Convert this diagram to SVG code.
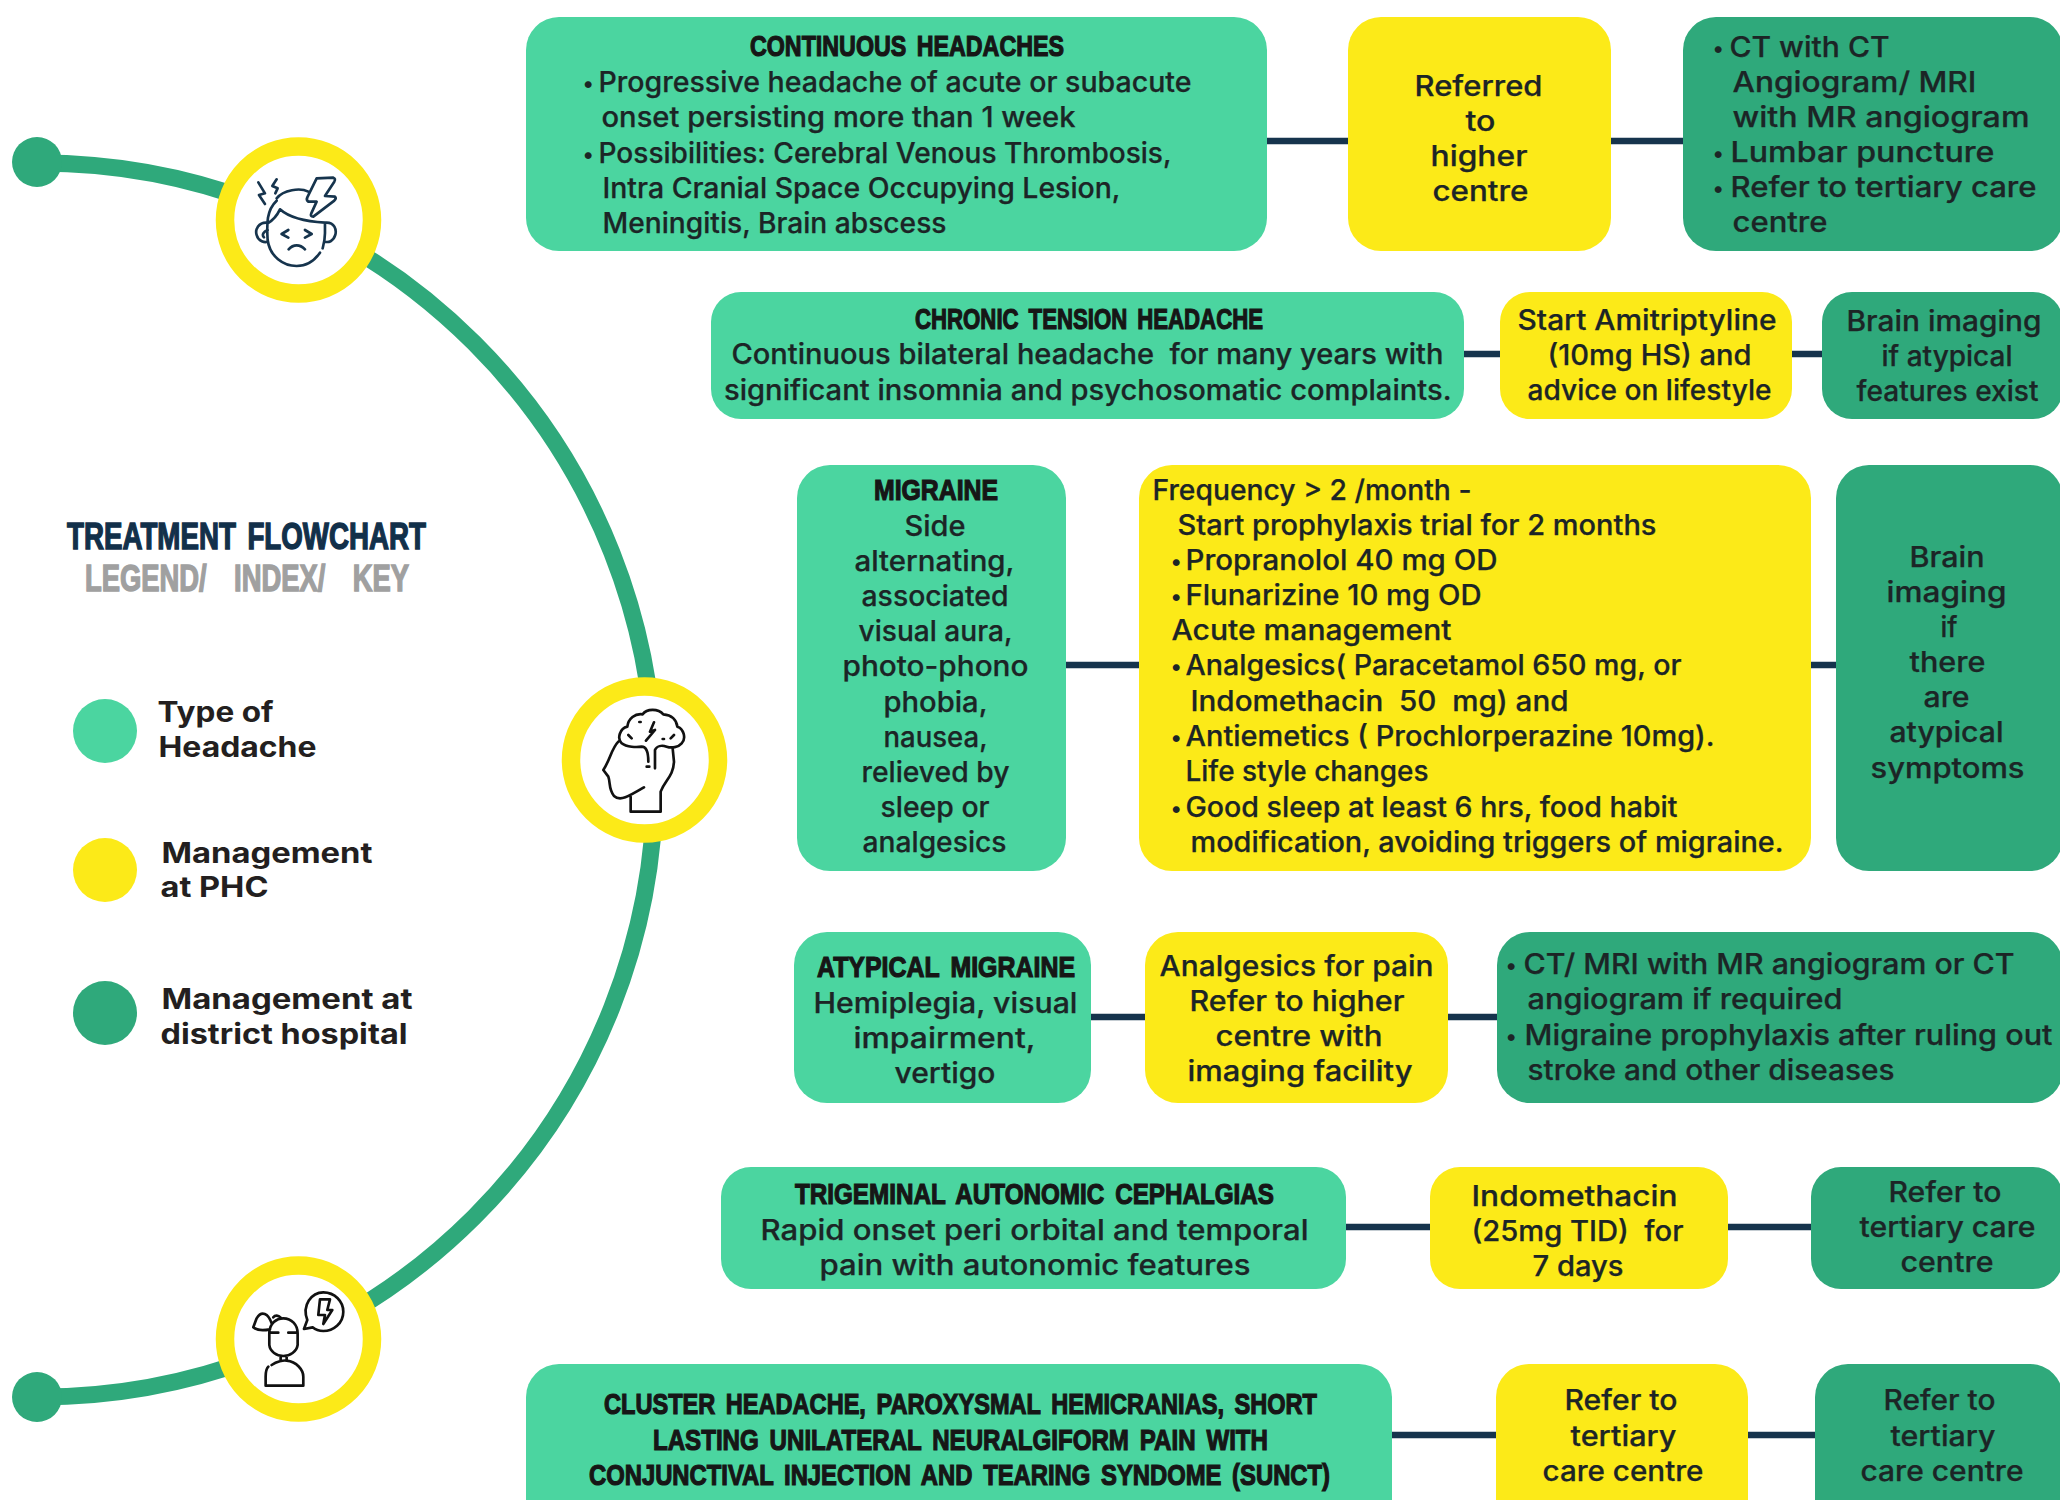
<svg xmlns="http://www.w3.org/2000/svg" width="2060" height="1500" viewBox="0 0 2060 1500">
<style>
.m{fill:#4bd5a0}.y{fill:#fcea18}.d{fill:#2fa97b}
.t{font-family:"Inter","Noto Sans",sans-serif;font-size:28px;font-weight:500;fill:#1c2526;stroke:#1c2526;stroke-width:.25px;transform:translate(-.5px,.5px)}
.h{font-family:"Liberation Sans",Arial,sans-serif;font-size:29px;font-weight:700;fill:#161616;stroke:#161616;stroke-width:1.2px;word-spacing:5px}
.l{font-family:"Inter","Noto Sans",sans-serif;font-size:28px;font-weight:700;fill:#231f20;transform:translateX(-.5px)}
.g{font-family:"Liberation Sans",Arial,sans-serif;font-size:36px;font-weight:700;stroke-width:1.4px}
.b{font-family:"Inter","Noto Sans",sans-serif;font-size:22px;fill:#1c2526;transform:translateX(-3px)}
.ic{fill:none;stroke-width:8;stroke-linecap:round;stroke-linejoin:round}
.conn line{stroke:#16344d;stroke-width:6.5}
</style>
<rect width="2060" height="1500" fill="#fff"/>
<g id="spine">
<path d="M37 163A616 616 0 0 1 655 780A616 616 0 0 1 37 1397" fill="none" stroke="#2fa97b" stroke-width="17"/>
<circle class="d" cx="37" cy="162" r="25"/><circle class="d" cx="37" cy="1397" r="25"/>
</g>
<g id="icon-top">
<circle cx="298.500" cy="220" r="73.500" fill="#fff" stroke="#fcea18" stroke-width="18.500"/>
<g transform="translate(0 100) scale(.3333)" class="ic" stroke="#16344d">
<path d="M830 302C800 330 800 370 803 420C810 470 850 498 890 498C920 498 945 480 960 458M830 295C850 270 900 262 925 275M803 370C820 360 832 345 840 328C870 355 920 365 975 368L975 400C975 420 972 430 968 445M803 368C775 365 765 390 770 405C775 425 795 428 803 425M803 390C790 395 785 405 792 412M975 368C1005 365 1010 390 1006 405C1000 425 985 428 975 425M865 390L845 402L865 413M915 390L935 402L915 413M866 448C880 432 900 432 915 448"/>
<path d="M950 235L1000 233Q1008 236 1003 245L975 288L1005 290Q1010 295 1003 302L940 350Q930 350 934 340L950 305L925 305Q918 300 922 292Z" fill="#fff"/>
<path d="M775 247L795 280L777 285L795 312M830 238L817 258L833 265L826 280"/>
</g>
</g>
<g id="icon-mid">
<circle cx="644.500" cy="760" r="73.500" fill="#fff" stroke="#fcea18" stroke-width="18.500"/>
<g transform="translate(540 660) scale(.3333)" class="ic" stroke="#111">
<path d="M262 200C265 175 285 160 308 163C320 145 355 145 370 163C395 165 410 180 412 200C430 205 440 235 425 250C415 262 395 265 380 260C365 255 350 258 345 270L345 325M262 200C240 205 230 235 245 250C260 262 290 262 305 260C320 260 325 275 325 305M235 245C215 265 210 300 190 330L205 350C212 370 205 385 222 408C240 425 265 410 312 382M272 410L272 455L362 455L362 395C375 360 400 350 402 305L398 265M342 187L330 215L345 210L318 242M298 186L302 186M368 237L372 237M265 225L275 235M402 225L392 235M320 320L328 320"/>
</g>
</g>
<g id="icon-bottom">
<circle cx="298.500" cy="1339" r="73.500" fill="#fff" stroke="#fcea18" stroke-width="18.500"/>
<g transform="translate(0 1230) scale(.3333)" class="ic" stroke="#111">
<path d="M808 310C808 280 830 265 850 265C875 265 893 285 893 310L893 345C890 365 870 378 850 378C830 378 810 365 808 345ZM808 308L835 308M865 308L893 308M842 378L842 392M860 378L860 392M815 405C830 395 850 390 860 392C890 395 910 420 910 440L910 467L797 467L797 440C797 425 800 415 805 410M815 280C805 250 785 240 770 265L760 292C775 305 800 300 810 298M820 262C825 255 835 255 842 263"/>
<path d="M922 270C905 225 935 187 970 187C1005 187 1030 215 1030 245C1030 280 1000 303 970 303C955 303 945 298 938 292L912 297Z"/>
<path d="M960 208L990 208L982 240L997 240L970 282L975 255L955 255Z"/>
</g>
</g>
<g id="connectors" class="conn">
<line x1="1267" y1="141" x2="1348" y2="141"/><line x1="1611" y1="141" x2="1683" y2="141"/>
<line x1="1464" y1="354" x2="1501" y2="354"/><line x1="1792" y1="354" x2="1822" y2="354"/>
<line x1="1066" y1="665" x2="1139" y2="665"/><line x1="1811" y1="665" x2="1836" y2="665"/>
<line x1="1091" y1="1017" x2="1145" y2="1017"/><line x1="1448" y1="1017" x2="1497" y2="1017"/>
<line x1="1346" y1="1227" x2="1430" y2="1227"/><line x1="1728" y1="1227" x2="1811" y2="1227"/>
<line x1="1392" y1="1435" x2="1496" y2="1435"/><line x1="1748" y1="1435" x2="1815" y2="1435"/>
</g>
<g id="legend">
<text class="g" x="67" y="549" textLength="359" lengthAdjust="spacingAndGlyphs" fill="#12304a" stroke="#12304a" word-spacing="5">TREATMENT FLOWCHART</text>
<text class="g" x="85" y="591" textLength="324" lengthAdjust="spacingAndGlyphs" fill="#a0a0a0" stroke="#a0a0a0" word-spacing="26">LEGEND/ INDEX/ KEY</text>
<circle class="m" cx="105" cy="731" r="32"/><circle class="y" cx="105" cy="870" r="32"/><circle class="d" cx="105" cy="1013" r="32"/>
<text class="l" x="158" y="722" textLength="116" lengthAdjust="spacingAndGlyphs">Type of</text>
<text class="l" x="159" y="757" textLength="158" lengthAdjust="spacingAndGlyphs">Headache</text>
<text class="l" x="162" y="863" textLength="211" lengthAdjust="spacingAndGlyphs">Management</text>
<text class="l" x="161" y="897" textLength="108" lengthAdjust="spacingAndGlyphs">at PHC</text>
<text class="l" x="162" y="1009" textLength="251" lengthAdjust="spacingAndGlyphs">Management at</text>
<text class="l" x="161" y="1044" textLength="247" lengthAdjust="spacingAndGlyphs">district hospital</text>
</g>
<g id="continuous-type">
<rect class="m" x="526" y="17" width="741" height="234" rx="33"/>
<text class="h" x="750" y="56" textLength="314" lengthAdjust="spacingAndGlyphs">CONTINUOUS HEADACHES</text>
<text class="b" x="585" y="91">•</text><text class="b" x="585" y="162">•</text>
<text class="t" x="599" y="91" textLength="593" lengthAdjust="spacingAndGlyphs">Progressive headache of acute or subacute</text>
<text class="t" x="602" y="126.5" textLength="474" lengthAdjust="spacingAndGlyphs">onset persisting more than 1 week</text>
<text class="t" x="599" y="162" textLength="573" lengthAdjust="spacingAndGlyphs">Possibilities: Cerebral Venous Thrombosis,</text>
<text class="t" x="603" y="197" textLength="518" lengthAdjust="spacingAndGlyphs">Intra Cranial Space Occupying Lesion,</text>
<text class="t" x="603" y="232.5" textLength="344" lengthAdjust="spacingAndGlyphs">Meningitis, Brain abscess</text>
</g>
<g id="continuous-phc">
<rect class="y" x="1348" y="17" width="263" height="234" rx="33"/>
<text class="t" x="1415" y="95" textLength="128" lengthAdjust="spacingAndGlyphs">Referred</text>
<text class="t" x="1466" y="130" textLength="30" lengthAdjust="spacingAndGlyphs">to</text>
<text class="t" x="1431" y="165" textLength="97" lengthAdjust="spacingAndGlyphs">higher</text>
<text class="t" x="1433" y="200.5" textLength="96" lengthAdjust="spacingAndGlyphs">centre</text>
</g>
<g id="continuous-district">
<rect class="d" x="1683" y="17" width="380" height="234" rx="33"/>
<text class="b" x="1715" y="56">•</text><text class="b" x="1715" y="161">•</text><text class="b" x="1715" y="196">•</text>
<text class="t" x="1730" y="56" textLength="160" lengthAdjust="spacingAndGlyphs">CT with CT</text>
<text class="t" x="1733" y="91" textLength="244" lengthAdjust="spacingAndGlyphs">Angiogram/ MRI</text>
<text class="t" x="1733" y="126" textLength="297" lengthAdjust="spacingAndGlyphs">with MR angiogram</text>
<text class="t" x="1731" y="161" textLength="264" lengthAdjust="spacingAndGlyphs">Lumbar puncture</text>
<text class="t" x="1731" y="196" textLength="306" lengthAdjust="spacingAndGlyphs">Refer to tertiary care</text>
<text class="t" x="1733" y="231.5" textLength="95" lengthAdjust="spacingAndGlyphs">centre</text>
</g>
<g id="tension-type">
<rect class="m" x="711" y="292" width="753" height="127" rx="30"/>
<text class="h" x="915" y="329" textLength="348" lengthAdjust="spacingAndGlyphs">CHRONIC TENSION HEADACHE</text>
<text class="t" x="732" y="363.5" textLength="712" lengthAdjust="spacingAndGlyphs" xml:space="preserve">Continuous bilateral headache  for many years with</text>
<text class="t" x="724.5" y="399" textLength="727.500" lengthAdjust="spacingAndGlyphs">significant insomnia and psychosomatic complaints.</text>
</g>
<g id="tension-phc">
<rect class="y" x="1500" y="292" width="292" height="127" rx="30"/>
<text class="t" x="1518" y="329" textLength="259" lengthAdjust="spacingAndGlyphs">Start Amitriptyline</text>
<text class="t" x="1548" y="364" textLength="204" lengthAdjust="spacingAndGlyphs">(10mg HS) and</text>
<text class="t" x="1528" y="399" textLength="244" lengthAdjust="spacingAndGlyphs">advice on lifestyle</text>
</g>
<g id="tension-district">
<rect class="d" x="1822" y="292" width="241" height="127" rx="30"/>
<text class="t" x="1847" y="330" textLength="195" lengthAdjust="spacingAndGlyphs">Brain imaging</text>
<text class="t" x="1882" y="365" textLength="131" lengthAdjust="spacingAndGlyphs">if atypical</text>
<text class="t" x="1857" y="400" textLength="182" lengthAdjust="spacingAndGlyphs">features exist</text>
</g>
<g id="migraine-type">
<rect class="m" x="797" y="465" width="269" height="406" rx="33"/>
<text class="h" x="874" y="500" textLength="124" lengthAdjust="spacingAndGlyphs">MIGRAINE</text>
<text class="t" x="905" y="535" textLength="61" lengthAdjust="spacingAndGlyphs">Side</text>
<text class="t" x="855" y="570" textLength="160" lengthAdjust="spacingAndGlyphs">alternating,</text>
<text class="t" x="862" y="605" textLength="147" lengthAdjust="spacingAndGlyphs">associated</text>
<text class="t" x="859" y="640.5" textLength="154" lengthAdjust="spacingAndGlyphs">visual aura,</text>
<text class="t" x="843" y="675.500" textLength="186" lengthAdjust="spacingAndGlyphs">photo-phono</text>
<text class="t" x="884" y="711" textLength="104" lengthAdjust="spacingAndGlyphs">phobia,</text>
<text class="t" x="884" y="746.5" textLength="104" lengthAdjust="spacingAndGlyphs">nausea,</text>
<text class="t" x="862" y="781" textLength="148" lengthAdjust="spacingAndGlyphs">relieved by</text>
<text class="t" x="881" y="816.5" textLength="109" lengthAdjust="spacingAndGlyphs">sleep or</text>
<text class="t" x="863" y="851.5" textLength="144" lengthAdjust="spacingAndGlyphs">analgesics</text>
</g>
<g id="migraine-phc">
<rect class="y" x="1139" y="465" width="672" height="406" rx="33"/>
<text class="b" x="1173" y="569">•</text><text class="b" x="1173" y="604">•</text><text class="b" x="1173" y="674">•</text><text class="b" x="1173" y="745">•</text><text class="b" x="1173" y="816">•</text>
<text class="t" x="1153" y="499" textLength="319" lengthAdjust="spacingAndGlyphs">Frequency &gt; 2 /month -</text>
<text class="t" x="1178" y="534" textLength="479" lengthAdjust="spacingAndGlyphs">Start prophylaxis trial for 2 months</text>
<text class="t" x="1186" y="569" textLength="312" lengthAdjust="spacingAndGlyphs">Propranolol 40 mg OD</text>
<text class="t" x="1186" y="604" textLength="296" lengthAdjust="spacingAndGlyphs">Flunarizine 10 mg OD</text>
<text class="t" x="1172" y="639.5" textLength="280" lengthAdjust="spacingAndGlyphs">Acute management</text>
<text class="t" x="1186" y="674.500" textLength="496" lengthAdjust="spacingAndGlyphs">Analgesics( Paracetamol 650 mg, or</text>
<text class="t" x="1191" y="710" textLength="378" lengthAdjust="spacingAndGlyphs" xml:space="preserve">Indomethacin  50  mg) and</text>
<text class="t" x="1186" y="745" textLength="529" lengthAdjust="spacingAndGlyphs">Antiemetics ( Prochlorperazine 10mg).</text>
<text class="t" x="1186" y="780.5" textLength="243" lengthAdjust="spacingAndGlyphs">Life style changes</text>
<text class="t" x="1186" y="816" textLength="492" lengthAdjust="spacingAndGlyphs">Good sleep at least 6 hrs, food habit</text>
<text class="t" x="1191" y="851" textLength="593" lengthAdjust="spacingAndGlyphs">modification, avoiding triggers of migraine.</text>
</g>
<g id="migraine-district">
<rect class="d" x="1836" y="465" width="227" height="406" rx="33"/>
<text class="t" x="1910" y="566" textLength="75" lengthAdjust="spacingAndGlyphs">Brain</text>
<text class="t" x="1887" y="601" textLength="120" lengthAdjust="spacingAndGlyphs">imaging</text>
<text class="t" x="1941" y="636" textLength="17" lengthAdjust="spacingAndGlyphs">if</text>
<text class="t" x="1910" y="671" textLength="76" lengthAdjust="spacingAndGlyphs">there</text>
<text class="t" x="1924" y="706.5" textLength="46" lengthAdjust="spacingAndGlyphs">are</text>
<text class="t" x="1890" y="741.5" textLength="114" lengthAdjust="spacingAndGlyphs">atypical</text>
<text class="t" x="1871" y="777" textLength="154" lengthAdjust="spacingAndGlyphs">symptoms</text>
</g>
<g id="atypical-type">
<rect class="m" x="794" y="932" width="297" height="171" rx="33"/>
<text class="h" x="817" y="977" textLength="258" lengthAdjust="spacingAndGlyphs">ATYPICAL MIGRAINE</text>
<text class="t" x="814" y="1012" textLength="264" lengthAdjust="spacingAndGlyphs">Hemiplegia, visual</text>
<text class="t" x="854" y="1047" textLength="182" lengthAdjust="spacingAndGlyphs">impairment,</text>
<text class="t" x="895" y="1082" textLength="101" lengthAdjust="spacingAndGlyphs">vertigo</text>
</g>
<g id="atypical-phc">
<rect class="y" x="1145" y="932" width="303" height="171" rx="33"/>
<text class="t" x="1160" y="975" textLength="274" lengthAdjust="spacingAndGlyphs">Analgesics for pain</text>
<text class="t" x="1190" y="1010" textLength="215" lengthAdjust="spacingAndGlyphs">Refer to higher</text>
<text class="t" x="1216" y="1045" textLength="167" lengthAdjust="spacingAndGlyphs">centre with</text>
<text class="t" x="1188" y="1080" textLength="225" lengthAdjust="spacingAndGlyphs">imaging facility</text>
</g>
<g id="atypical-district">
<rect class="d" x="1497" y="932" width="566" height="171" rx="33"/>
<text class="b" x="1508" y="973">•</text><text class="b" x="1508" y="1044">•</text>
<text class="t" x="1524" y="973" textLength="491" lengthAdjust="spacingAndGlyphs">CT/ MRI with MR angiogram or CT</text>
<text class="t" x="1528" y="1008" textLength="315" lengthAdjust="spacingAndGlyphs">angiogram if required</text>
<text class="t" x="1525" y="1044" textLength="528" lengthAdjust="spacingAndGlyphs">Migraine prophylaxis after ruling out</text>
<text class="t" x="1528" y="1079" textLength="367" lengthAdjust="spacingAndGlyphs">stroke and other diseases</text>
</g>
<g id="tac-type">
<rect class="m" x="721" y="1167" width="625" height="122" rx="30"/>
<text class="h" x="795" y="1204" textLength="479" lengthAdjust="spacingAndGlyphs">TRIGEMINAL AUTONOMIC CEPHALGIAS</text>
<text class="t" x="761" y="1239" textLength="548" lengthAdjust="spacingAndGlyphs">Rapid onset peri orbital and temporal</text>
<text class="t" x="820" y="1274" textLength="431" lengthAdjust="spacingAndGlyphs">pain with autonomic features</text>
</g>
<g id="tac-phc">
<rect class="y" x="1430" y="1167" width="298" height="122" rx="30"/>
<text class="t" x="1472" y="1205" textLength="206" lengthAdjust="spacingAndGlyphs">Indomethacin</text>
<text class="t" x="1472" y="1240" textLength="212" lengthAdjust="spacingAndGlyphs" xml:space="preserve">(25mg TID)  for</text>
<text class="t" x="1533" y="1275" textLength="91" lengthAdjust="spacingAndGlyphs">7 days</text>
</g>
<g id="tac-district">
<rect class="d" x="1811" y="1167" width="252" height="122" rx="30"/>
<text class="t" x="1889" y="1201" textLength="113" lengthAdjust="spacingAndGlyphs">Refer to</text>
<text class="t" x="1860" y="1236.5" textLength="176" lengthAdjust="spacingAndGlyphs">tertiary care</text>
<text class="t" x="1901" y="1271.5" textLength="93" lengthAdjust="spacingAndGlyphs">centre</text>
</g>
<g id="cluster-type">
<rect class="m" x="526" y="1364" width="866" height="170" rx="33"/>
<text class="h" x="604" y="1414" textLength="713" lengthAdjust="spacingAndGlyphs">CLUSTER HEADACHE, PAROXYSMAL HEMICRANIAS, SHORT</text>
<text class="h" x="653" y="1450" textLength="615" lengthAdjust="spacingAndGlyphs">LASTING UNILATERAL NEURALGIFORM PAIN WITH</text>
<text class="h" x="589" y="1485" textLength="741" lengthAdjust="spacingAndGlyphs">CONJUNCTIVAL INJECTION AND TEARING SYNDOME (SUNCT)</text>
</g>
<g id="cluster-phc">
<rect class="y" x="1496" y="1364" width="252" height="170" rx="33"/>
<text class="t" x="1565" y="1409" textLength="113" lengthAdjust="spacingAndGlyphs">Refer to</text>
<text class="t" x="1571" y="1445" textLength="106" lengthAdjust="spacingAndGlyphs">tertiary</text>
<text class="t" x="1543" y="1480" textLength="161" lengthAdjust="spacingAndGlyphs">care centre</text>
</g>
<g id="cluster-district">
<rect class="d" x="1815" y="1364" width="248" height="170" rx="33"/>
<text class="t" x="1884" y="1409" textLength="112" lengthAdjust="spacingAndGlyphs">Refer to</text>
<text class="t" x="1891" y="1445" textLength="105" lengthAdjust="spacingAndGlyphs">tertiary</text>
<text class="t" x="1861" y="1480" textLength="163" lengthAdjust="spacingAndGlyphs">care centre</text>
</g>
</svg>
